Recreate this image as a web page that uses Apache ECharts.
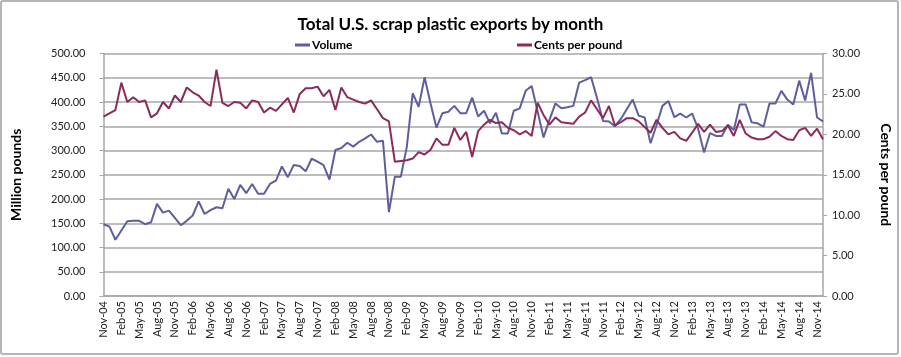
<!DOCTYPE html>
<html>
<head>
<meta charset="utf-8">
<script src="https://cdn.jsdelivr.net/npm/echarts@6/dist/echarts.min.js"></script>
<style>
html,body{margin:0;padding:0;background:#fff;}
#c{width:901px;height:357px;}
</style>
</head>
<body>
<div id="c"></div>
<script>
const months = [
"Nov-04","Dec-04",
"Jan-05","Feb-05","Mar-05","Apr-05","May-05","Jun-05","Jul-05","Aug-05","Sep-05","Oct-05","Nov-05","Dec-05",
"Jan-06","Feb-06","Mar-06","Apr-06","May-06","Jun-06","Jul-06","Aug-06","Sep-06","Oct-06","Nov-06","Dec-06",
"Jan-07","Feb-07","Mar-07","Apr-07","May-07","Jun-07","Jul-07","Aug-07","Sep-07","Oct-07","Nov-07","Dec-07",
"Jan-08","Feb-08","Mar-08","Apr-08","May-08","Jun-08","Jul-08","Aug-08","Sep-08","Oct-08","Nov-08","Dec-08",
"Jan-09","Feb-09","Mar-09","Apr-09","May-09","Jun-09","Jul-09","Aug-09","Sep-09","Oct-09","Nov-09","Dec-09",
"Jan-10","Feb-10","Mar-10","Apr-10","May-10","Jun-10","Jul-10","Aug-10","Sep-10","Oct-10","Nov-10","Dec-10",
"Jan-11","Feb-11","Mar-11","Apr-11","May-11","Jun-11","Jul-11","Aug-11","Sep-11","Oct-11","Nov-11","Dec-11",
"Jan-12","Feb-12","Mar-12","Apr-12","May-12","Jun-12","Jul-12","Aug-12","Sep-12","Oct-12","Nov-12","Dec-12",
"Jan-13","Feb-13","Mar-13","Apr-13","May-13","Jun-13","Jul-13","Aug-13","Sep-13","Oct-13","Nov-13","Dec-13",
"Jan-14","Feb-14","Mar-14","Apr-14","May-14","Jun-14","Jul-14","Aug-14","Sep-14","Oct-14","Nov-14","Dec-14"
];

// Volume, million pounds
const volume = [
148,143,
116,135,154,155,155,148,152,190,172,176,161,146,
155,166,195,169,177,183,181,221,200,229,212,231,
211,211,231,238,267,245,270,268,257,283,277,270,
240,301,305,316,308,318,325,333,318,320,173,246,
246,307,418,390,451,397,347,377,380,392,377,377,
409,370,382,356,378,335,335,382,387,423,433,381,
327,363,397,387,389,392,440,445,451,408,361,360,
350,365,385,405,372,368,315,352,392,402,369,376,
368,376,345,296,336,330,330,353,342,395,395,358,
356,349,397,397,423,405,395,444,403,460,368,360
];

// Cents per pound
const cents = [
22.2,22.6,
23.0,26.4,24.0,24.6,24.0,24.2,22.1,22.6,24.0,23.2,24.8,24.0,
25.8,25.2,24.8,24.0,23.5,28.0,23.9,23.5,24.0,23.9,23.2,24.2,
24.0,22.7,23.3,22.9,23.7,24.5,22.7,25.0,25.7,25.7,25.9,24.7,
25.5,23.0,25.8,24.6,24.3,24.0,23.8,24.2,23.1,22.0,21.6,16.6,
16.7,16.8,17.0,17.8,17.5,18.1,19.5,18.7,18.7,20.8,19.3,20.3,
17.2,20.4,21.2,21.8,21.4,21.5,20.8,20.5,20.0,20.4,19.8,23.9,
22.4,21.2,22.1,21.5,21.4,21.3,22.2,22.7,24.2,23.1,22.0,23.5,
21.1,21.5,22.0,22.0,21.6,20.9,20.2,21.8,20.8,20.0,20.3,19.5,
19.2,20.2,21.3,20.3,21.2,20.3,20.4,21.1,19.8,21.8,20.1,19.6,
19.4,19.4,19.7,20.4,19.8,19.4,19.3,20.5,20.8,19.8,20.7,19.4
];

const leftTicks = {min: 0, max: 500, interval: 50};
const rightTicks = {min: 0, max: 30, interval: 5};

const FONT = 'Lato';
const chart = echarts.init(document.getElementById('c'), null, {renderer: 'canvas'});
chart.setOption({
  backgroundColor: '#fff',
  animation: false,
  title: {
    text: 'Total U.S. scrap plastic exports by month',
    left: 'center', top: 11,
    textStyle: {fontFamily: FONT, fontSize: 17, fontWeight: 'bold', color: '#000'}
  },
  legend: [
    {data: ['Volume'], left: 290, top: 34, icon: 'rect', itemWidth: 15, itemHeight: 3,
     textStyle: {fontFamily: FONT, fontSize: 12, fontWeight: 'bold', color: '#000', padding: [0,0,0,-3]}},
    {data: ['Cents per pound'], left: 512, top: 34, icon: 'rect', itemWidth: 15, itemHeight: 3,
     textStyle: {fontFamily: FONT, fontSize: 12, fontWeight: 'bold', color: '#000', padding: [0,0,0,-3]}}
  ],
  grid: {left: 103.5, right: 74, top: 53.5, bottom: 61, containLabel: false},
  xAxis: {
    type: 'category', data: months, boundaryGap: false,
    axisLine: {lineStyle: {color: '#A6A6A6', width: 1.5}},
    axisTick: {show: false},
    axisLabel: {interval: 2, rotate: 90, fontFamily: FONT, fontSize: 11, color: '#222', margin: 5}
  },
  yAxis: [
    {type: 'value', min: leftTicks.min, max: leftTicks.max, interval: leftTicks.interval,
     name: 'Million pounds', nameLocation: 'middle', nameGap: 80, nameRotate: 90,
     nameTextStyle: {fontFamily: FONT, fontSize: 14, fontWeight: 'bold', color: '#000'},
     axisLine: {show: true, lineStyle: {color: '#A6A6A6', width: 1.5}},
     axisTick: {show: true, length: 4, lineStyle: {color: '#A6A6A6'}},
     axisLabel: {formatter: v => v.toFixed(2), fontFamily: FONT, fontSize: 11, color: '#222', margin: 18},
     splitLine: {lineStyle: {color: '#BDBDBD', width: 2}}},
    {type: 'value', min: rightTicks.min, max: rightTicks.max, interval: rightTicks.interval,
     name: 'Cents per pound', nameLocation: 'middle', nameGap: 56, nameRotate: -90,
     nameTextStyle: {fontFamily: FONT, fontSize: 14, fontWeight: 'bold', color: '#000'},
     axisLine: {show: true, lineStyle: {color: '#A6A6A6', width: 1.5}},
     axisTick: {show: true, length: 4, lineStyle: {color: '#A6A6A6'}},
     axisLabel: {formatter: v => v.toFixed(2), fontFamily: FONT, fontSize: 11, color: '#222', margin: 9},
     splitLine: {show: false}}
  ],
  series: [
    {name: 'Volume', type: 'line', data: volume, yAxisIndex: 0, symbol: 'none',
     lineStyle: {color: '#5F5E9C', width: 2}, itemStyle: {color: '#5F5E9C'}},
    {name: 'Cents per pound', type: 'line', data: cents, yAxisIndex: 1, symbol: 'none',
     lineStyle: {color: '#8C2A59', width: 2}, itemStyle: {color: '#8C2A59'}}
  ],
  graphic: [
    {type: 'rect', shape: {x: 1, y: 1, width: 897, height: 353, r: 2}, silent: true, z: -1,
     style: {fill: null, stroke: '#B5B5B5', lineWidth: 2}}
  ]
});
</script>
</body>
</html>
